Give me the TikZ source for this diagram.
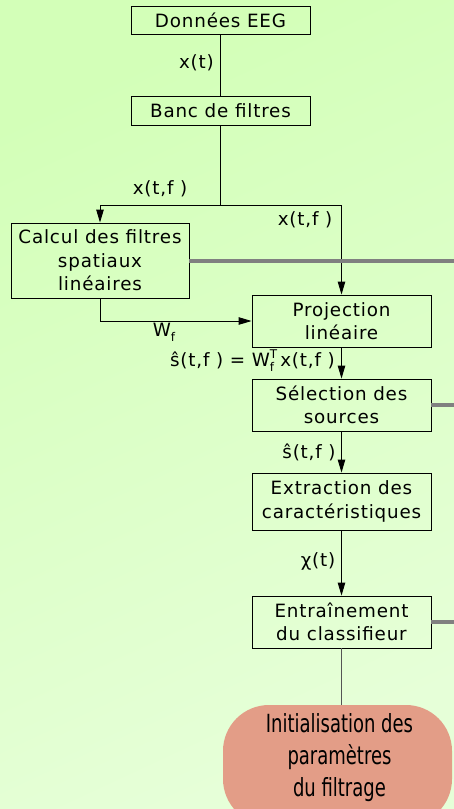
\documentclass[tikz,border=0pt]{standalone}
\usepackage{fontspec}
\setmainfont{DejaVu Sans}[LetterSpace=4.5]
\newfontfamily\condfont{DejaVu Sans Condensed}[FakeStretch=0.8]
\usetikzlibrary{arrows.meta}
\definecolor{bgtop}{HTML}{D3FFB8}
\definecolor{bgbot}{HTML}{E6FFD8}
\definecolor{ovalfill}{HTML}{E39D87}
\definecolor{feedgray}{HTML}{808080}
\definecolor{stemgray}{HTML}{555555}
% small index letters beside W
\newcommand\idx[1]{{\fontsize{12}{12}\selectfont #1}}
\newcommand\Wsub[1]{W\raisebox{-0.5ex}{\idx{#1}}}
\newcommand\Wsubsup[2]{W\rlap{\raisebox{-0.5ex}{\idx{#1}}}\raisebox{0.8ex}{\idx{#2}}}

\begin{document}
\begin{tikzpicture}[x=1pt,y=-1pt,
  stepbox/.style={draw=black, line width=0.9pt, minimum width=179pt, inner sep=0pt,
    align=center, font=\fontsize{18.3}{23.5}\selectfont},
  flow/.style={line width=0.9pt, -{Triangle[length=13pt,width=7.5pt]}},
  link/.style={line width=0.9pt},
  feedback/.style={feedgray, line width=4pt},
  lbl/.style={font=\fontsize{18.3}{22}\selectfont, inner sep=0pt}
]
% background
\shade[top color=bgtop, bottom color=bgbot, shading angle=25] (0,0) rectangle (454,809);
\useasboundingbox (0,0) rectangle (454,809);

% processing blocks
\node[stepbox, minimum height=28pt] (eeg)   at (220.5,20)  {Données EEG};
\node[stepbox, minimum height=29pt] (banc)  at (220.5,110.5) {Banc de filtres};
\node[stepbox, minimum width=178pt, minimum height=75pt] (calc) at (100,260.5)
  {Calcul des filtres\\spatiaux\\linéaires};
\node[stepbox, minimum height=52pt] (proj)  at (341.5,321) {Projection\\linéaire};
\node[stepbox, minimum height=52pt] (sel)   at (341.5,405) {Sélection des\\sources};
\node[stepbox, minimum height=57pt] (extr)  at (341.5,501.5) {Extraction des\\caractéristiques};
\node[stepbox, minimum height=52pt] (train) at (341.5,622) {Entraînement\\du classifieur};

% initialisation block
\begin{scope}
  \clip (0,0) rectangle (454,809);
  \node[fill=ovalfill, rounded corners=46pt, minimum width=229pt, minimum height=120pt,
        inner sep=0pt] (init) at (337.5,765) {};
  \node[font=\condfont\fontsize{25}{32}\selectfont, align=center, inner sep=0pt]
    (inittxt) at (339.5,758) {Initialisation des\\paramètres\\du filtrage};
\end{scope}

% connectors
\coordinate (split) at (220.5,205);
\draw[link] (eeg.south) -- (banc.north);
\draw[link] (banc.south) -- (split);
\draw[flow] (split) -| (calc.north);
\draw[flow] (split) -| (proj.north);
\draw[flow] (calc.south) |- (proj.west);
\draw[flow] (proj.south) -- (sel.north);
\draw[flow] (sel.south) -- (extr.north);
\draw[flow] (extr.south) -- (train.north);
\draw[stemgray, line width=0.9pt] (train.south) -- (train.south |- init.north);

% feedback lines
\coordinate (fb1) at (454,261);
\coordinate (fb2) at (454,405);
\coordinate (fb3) at (454,622);
\draw[feedback] (calc.east |- fb1) -- (fb1);
\draw[feedback] (sel.east) -- (fb2);
\draw[feedback] (train.east) -- (fb3);

% signal labels
\node[lbl, anchor=east] (l1) at (214,63) {x(t)};
\node[lbl] (l2) at (160,189) {x(t,f )};
\node[lbl] (l3) at (305,220) {x(t,f )};
\node[lbl] (l4) at (164,332) {\Wsub{f}};
\node[lbl, anchor=east] (l5) at (335,361) {ŝ(t,f ) = \Wsubsup{f}{T}\,x(t,f )};
\node[lbl] (l6) at (309,452) {ŝ(t,f )};
\node[lbl] (l7) at (318,561) {χ(t)};
\end{tikzpicture}
\end{document}
